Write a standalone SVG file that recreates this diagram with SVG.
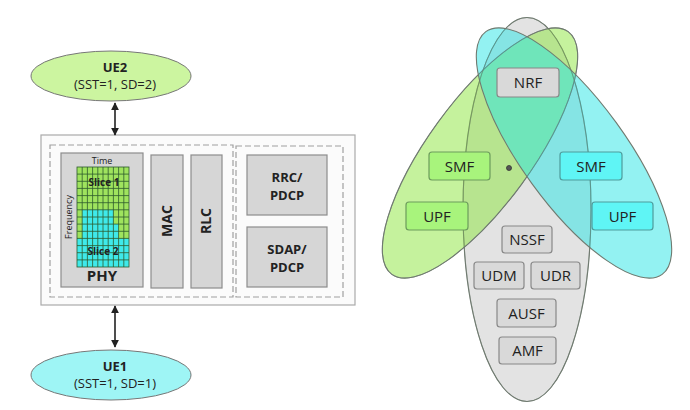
<svg xmlns="http://www.w3.org/2000/svg" width="690" height="410" viewBox="0 0 690 410">
<defs>
<marker id="ah" viewBox="0 0 10 10" refX="9" refY="5" markerWidth="5" markerHeight="5" orient="auto-start-reverse">
<path d="M0,0 L10,5 L0,10 z" fill="#222"/>
</marker>
<clipPath id="gridclip"><rect x="77" y="167" width="52" height="100"/></clipPath>
</defs>
<style>
text{font-family:"Open Sans","Noto Sans","Liberation Sans",sans-serif;fill:#222;text-anchor:middle}
.b{font-weight:bold}
.ue{stroke:#777;stroke-width:1}
.blk{fill:#d6d6d6;stroke:#8c8c8c;stroke-width:1.2}
.dash{fill:none;stroke:#a0a0a0;stroke-width:1.2;stroke-dasharray:6,3}
.nf{fill:#d9d9d9;stroke:#888;stroke-width:1.2}
.gnf{fill:#a8f47c;stroke:#6c9c5c;stroke-width:1.2}
.cnf{fill:#5ff5f5;stroke:#4e9c9c;stroke-width:1.2}
.ell{stroke:#6f7a70;stroke-width:1.1}
.t15{font-size:15px}
.gl{stroke:#2d5a2d;stroke-width:0.8}
</style>
<rect width="690" height="410" fill="#ffffff"/>

<g id="ue2">
<ellipse class="ue" cx="111" cy="76" rx="80" ry="25" fill="#ccf5a0"/>
<text class="b" x="115" y="72" font-size="13">UE2</text>
<text x="115" y="89" font-size="13">(SST=1, SD=2)</text>
</g>
<g id="ue1">
<ellipse class="ue" cx="111" cy="375" rx="80" ry="25" fill="#9ef5f5"/>
<text class="b" x="115" y="371" font-size="13">UE1</text>
<text x="115" y="388" font-size="13">(SST=1, SD=1)</text>
</g>

<g id="gnb">
<rect x="41" y="135" width="314" height="170" fill="#fbfbfb" stroke="#aaa" stroke-width="1.2"/>
<rect class="dash" x="50" y="145" width="183" height="152"/>
<rect class="dash" x="236" y="146" width="107" height="151"/>
</g>
<g id="phy">
<rect class="blk" x="61" y="153" width="82" height="134"/>
<text x="102" y="164" font-size="9">Time</text>
<text x="0" y="0" font-size="9" fill="#444" transform="translate(72,217) rotate(-90)">Frequency</text>
<g clip-path="url(#gridclip)">
<rect x="77" y="167" width="52" height="100" fill="#9fe35e"/>
<path d="M82.2,209.8 H113.4 V224 H118.6 V238.4 H129 V267 H77 V238.4 H82.2 Z" fill="#3fe9ea"/>
<g class="gl">
<path d="M82.2,167V267M87.4,167V267M92.6,167V267M97.8,167V267M103,167V267M108.2,167V267M113.4,167V267M118.6,167V267M123.8,167V267"/>
<path d="M77,174.1H129M77,181.3H129M77,188.4H129M77,195.6H129M77,202.7H129M77,209.8H129M77,217H129M77,224.1H129M77,231.3H129M77,238.4H129M77,245.6H129M77,252.7H129M77,259.9H129"/>
</g>
</g>
<rect x="77" y="167" width="52" height="100" fill="none" stroke="#2d5a2d" stroke-width="0.8"/>
<text class="b" x="104" y="186" font-size="10">Slice 1</text>
<text class="b" x="103" y="255" font-size="10">Slice 2</text>
<text class="b" x="102" y="281" font-size="15">PHY</text>
</g>
<g id="mac">
<rect class="blk" x="151" y="155" width="32" height="133"/>
<text class="b" x="0" y="0" font-size="14" transform="translate(172,221) rotate(-90)">MAC</text>
</g>
<g id="rlc">
<rect class="blk" x="191" y="155" width="31" height="133"/>
<text class="b" x="0" y="0" font-size="14" transform="translate(211,221) rotate(-90)">RLC</text>
</g>
<g id="rrc">
<rect class="blk" x="247" y="155" width="80" height="60"/>
<text class="b" x="287" y="182" font-size="13">RRC/</text>
<text class="b" x="287" y="200" font-size="13">PDCP</text>
</g>
<g id="sdap">
<rect class="blk" x="247" y="227" width="80" height="60"/>
<text class="b" x="287" y="254" font-size="13">SDAP/</text>
<text class="b" x="287" y="272" font-size="13">PDCP</text>
</g>

<g id="connectors">
<line x1="115" y1="103" x2="115" y2="135" stroke="#222" stroke-width="1.6" marker-start="url(#ah)" marker-end="url(#ah)"/>
<line x1="115" y1="306" x2="115" y2="347" stroke="#222" stroke-width="1.6" marker-start="url(#ah)" marker-end="url(#ah)"/>
</g>

<g id="slices">
<ellipse class="ell" cx="527" cy="209.5" rx="64" ry="192" fill="#e3e3e3"/>
<ellipse class="ell" cx="0" cy="0" rx="52" ry="150" fill="#8ce63c" fill-opacity="0.5" transform="translate(480,153) rotate(36)"/>
<ellipse class="ell" cx="0" cy="0" rx="52" ry="150" fill="#28e6e6" fill-opacity="0.5" transform="translate(574,153) rotate(-36)"/>
<ellipse cx="527" cy="209.5" rx="64" ry="192" fill="none" stroke="#6f7a70" stroke-width="0.9" stroke-opacity="0.6"/>
<ellipse cx="0" cy="0" rx="52" ry="150" fill="none" stroke="#6f7a70" stroke-width="0.9" stroke-opacity="0.6" transform="translate(480,153) rotate(36)"/>
</g>

<g id="nrf"><rect class="nf" x="497" y="68" width="62" height="29" rx="3"/><text class="t15" x="528" y="88">NRF</text></g>
<g id="smf1"><rect class="gnf" x="429" y="152" width="61" height="28" rx="3"/><text class="t15" x="459.5" y="172">SMF</text></g>
<g id="smf2"><rect class="cnf" x="560" y="152" width="62" height="28" rx="3"/><text class="t15" x="591" y="172">SMF</text></g>
<g id="upf1"><rect class="gnf" x="406" y="202" width="62" height="28" rx="3"/><text class="t15" x="437" y="222">UPF</text></g>
<g id="upf2"><rect class="cnf" x="592" y="202" width="61" height="28" rx="3"/><text class="t15" x="622.5" y="222">UPF</text></g>
<g id="nssf"><rect class="nf" x="502" y="226" width="50" height="27" rx="3"/><text class="t15" x="527" y="245">NSSF</text></g>
<g id="udm"><rect class="nf" x="474" y="262" width="50" height="27" rx="3"/><text class="t15" x="499" y="281">UDM</text></g>
<g id="udr"><rect class="nf" x="531" y="262" width="49" height="27" rx="3"/><text class="t15" x="555.5" y="281">UDR</text></g>
<g id="ausf"><rect class="nf" x="497" y="299" width="59" height="28" rx="3"/><text class="t15" x="526.5" y="319">AUSF</text></g>
<g id="amf"><rect class="nf" x="499" y="337" width="57" height="27" rx="3"/><text class="t15" x="527.5" y="356">AMF</text></g>
<circle cx="509" cy="168" r="2.5" fill="#555" stroke="#333" stroke-width="0.8"/>
</svg>
